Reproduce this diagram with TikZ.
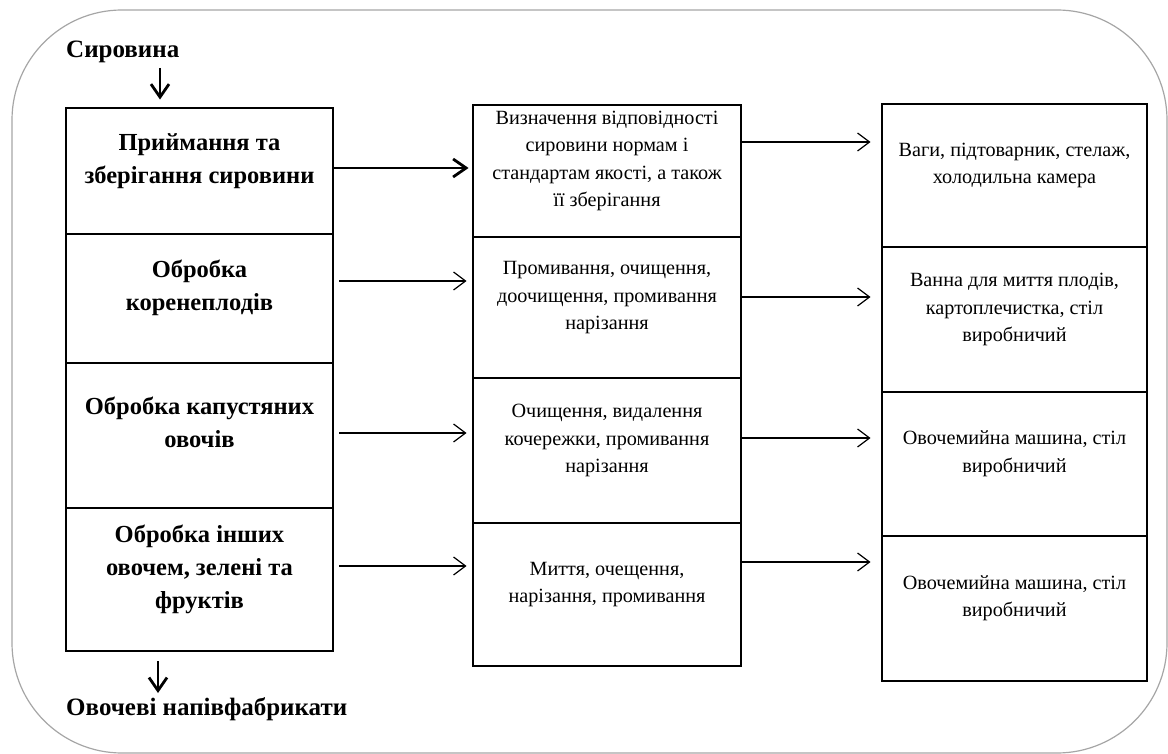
\documentclass[tikz,border=0pt]{standalone}
\usepackage{fontspec}
\setmainfont{Liberation Serif}
\usetikzlibrary{arrows.meta}
\newcommand{\boxtext}[1]{\raisebox{11pt}[\height][\depth]{\begin{tabular}{@{}c@{}}#1\end{tabular}}}
\begin{document}
\begin{tikzpicture}[x=1pt,y=-1pt,
    stage/.style={draw,line width=2.9pt,inner sep=0pt,
      font=\fontsize{24.5}{33}\selectfont\bfseries},
    task/.style={draw,line width=2.9pt,inner sep=0pt,
      font=\fontsize{20.2}{27.5}\selectfont},
    heading/.style={anchor=west,inner sep=0pt,
      font=\fontsize{25}{28}\selectfont\bfseries},
    flow/.style={line width=1.2pt,-{Straight Barb[length=12pt,width=18pt]}},
    bigflow/.style={line width=2.8pt,-{Straight Barb[length=13pt,width=18pt]}}]
  \useasboundingbox (0,0) rectangle (1168,754);
  \draw[gray!70,line width=1.2pt,rounded corners=110pt] (12,10) rectangle (1167,753);
  \node[stage,minimum width=267pt,minimum height=126pt] (l1) at (199.5,171)
    {\boxtext{Приймання та\\зберігання сировини}};
  \node[stage,minimum width=267pt,minimum height=129pt] (l2) at (199.5,298.5)
    {\boxtext{Обробка\\коренеплодів}};
  \node[stage,minimum width=267pt,minimum height=145pt] (l3) at (199.5,435.5)
    {\boxtext{Обробка капустяних\\овочів}};
  \node[stage,minimum width=267pt,minimum height=143pt] (l4) at (199.5,579.5)
    {\boxtext{Обробка інших\\овочем, зелені та\\фруктів}};
  \node[task,minimum width=268pt,minimum height=132pt] (m1) at (607,171)
    {\boxtext{Визначення відповідності\\сировини нормам і\\стандартам якості, а також\\її зберігання}};
  \node[task,minimum width=268pt,minimum height=141pt] (m2) at (607,307.5)
    {\boxtext{Промивання, очищення,\\доочищення, промивання\\нарізання}};
  \node[task,minimum width=268pt,minimum height=145pt] (m3) at (607,450.5)
    {\boxtext{Очищення, видалення\\кочережки, промивання\\нарізання}};
  \node[task,minimum width=268pt,minimum height=143pt] (m4) at (607,594.5)
    {\boxtext{Миття, очещення,\\нарізання, промивання}};
  \node[task,minimum width=265pt,minimum height=143pt] (r1) at (1014.5,175.5)
    {\boxtext{Ваги, підтоварник, стелаж,\\холодильна камера}};
  \node[task,minimum width=265pt,minimum height=145pt] (r2) at (1014.5,319.5)
    {\boxtext{Ванна для миття плодів,\\картоплечистка, стіл\\виробничий}};
  \node[task,minimum width=265pt,minimum height=144pt] (r3) at (1014.5,464)
    {\boxtext{Овочемийна машина, стіл\\виробничий}};
  \node[task,minimum width=265pt,minimum height=145pt] (r4) at (1014.5,608.5)
    {\boxtext{Овочемийна машина, стіл\\виробничий}};
  \node[heading] (raw) at (66,52) {Сировина};
  \node[heading] (semi) at (66,709) {Овочеві напівфабрикати};
  \coordinate (in) at (160,68);
  \coordinate (out) at (158,693);
  \draw[bigflow] (in) -- ([yshift=7pt]in |- l1.north);
  \draw[bigflow] ([yshift=-9pt]out |- l4.south) -- (out);
  \draw[bigflow] ([shift={(0,-3)}]l1.east) -- ([shift={(-3,-3)}]l1.east -| m1.west);
  \draw[flow] ([shift={(5,-17.5)}]l2.east) -- ([shift={(-5,-17.5)}]l2.east -| m2.west);
  \draw[flow] ([shift={(5,-2.5)}]l3.east) -- ([shift={(-5,-2.5)}]l3.east -| m3.west);
  \draw[flow] ([shift={(5,-13.5)}]l4.east) -- ([shift={(-5,-13.5)}]l4.east -| m4.west);
  \draw[flow] ([shift={(0,-29)}]m1.east) -- ([shift={(-10,-29)}]m1.east -| r1.west);
  \draw[flow] ([shift={(0,-10.5)}]m2.east) -- ([shift={(-10,-10.5)}]m2.east -| r2.west);
  \draw[flow] ([shift={(0,-12.5)}]m3.east) -- ([shift={(-10,-12.5)}]m3.east -| r3.west);
  \draw[flow] ([shift={(0,-32.5)}]m4.east) -- ([shift={(-10,-32.5)}]m4.east -| r4.west);
\end{tikzpicture}
\end{document}
